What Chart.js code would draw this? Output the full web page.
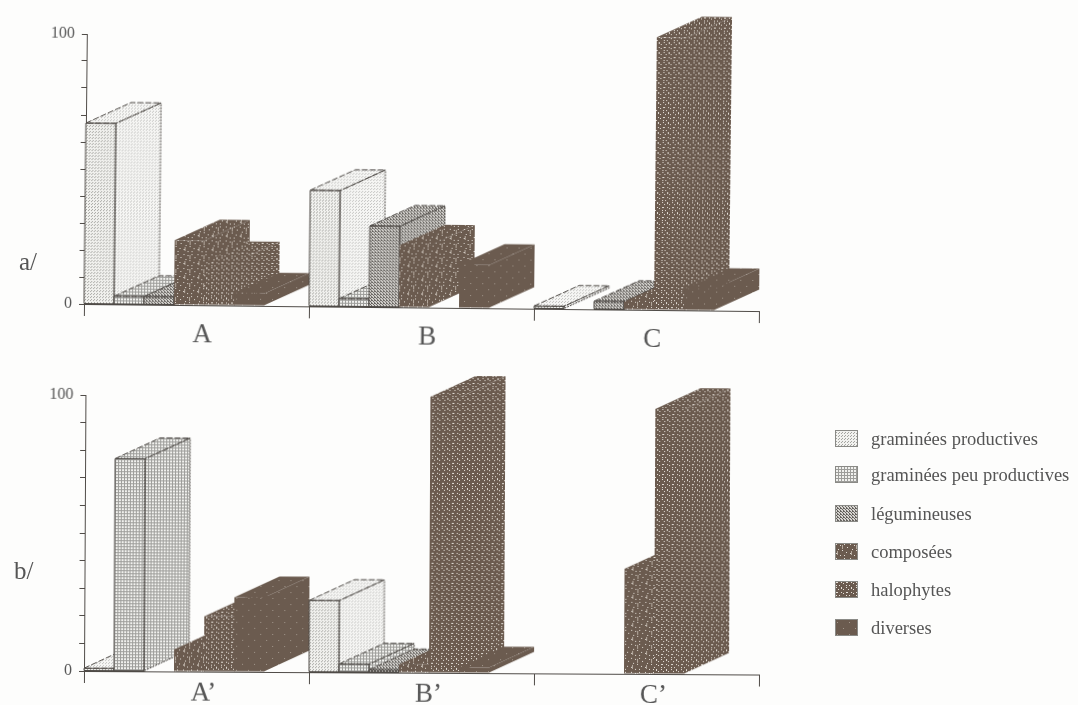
<!DOCTYPE html>
<html>
<head>
<meta charset="utf-8">
<script src="https://cdn.jsdelivr.net/npm/chart.js@4"></script>
<style>
  html, body { margin: 0; padding: 0; background: #fdfdfc; }
  body { width: 1078px; height: 705px; position: relative; overflow: hidden; font-family: "Liberation Serif", serif; color: #555; }
  canvas { position: absolute; left: 0; }
  #chartA { top: 0; transform-origin: 84px 304px; transform: rotate(0.6deg); }
  #chartB { top: 360px; transform-origin: 84px 311px; transform: rotate(0.3deg); }
  .panel { position: absolute; font-size: 25px; line-height: 30px; }
  .row { position: absolute; left: 835px; height: 18px; }
  .row canvas { left: 0; top: 0; outline: 1px solid #8a8a86; outline-offset: -1px; }
  .row span { position: absolute; left: 36px; top: -1px; font-size: 18.5px; line-height: 20px; white-space: nowrap; }
</style>
</head>
<body>
<canvas id="chartA" width="800" height="360"></canvas>
<canvas id="chartB" width="800" height="345"></canvas>
<div class="panel" style="left:19px; top:247px">a/</div>
<div class="panel" style="left:14px; top:556px">b/</div>
<div id="legend"></div>
<script>
const seriesNames = ['graminées productives', 'graminées peu productives', 'légumineuses', 'composées', 'halophytes', 'diverses']
const yTicks = [0, 100]

// a/
const categoriesA = ['A', 'B', 'C']
const prodA = [67, 43, 1]
const peuProdA = [3, 3, 0]
const legumA = [3, 30, 3]
const composA = [24, 23, 3]
const haloA = [16, 0, 101]
const diversA = [4.5, 16, 8]

// b/
const categoriesB = ['A’', 'B’', 'C’']
const prodB = [1, 26, 0]
const peuProdB = [77, 3, 0]
const legumB = [0, 1, 0]
const composB = [8, 3, 38]
const haloB = [20, 100, 96]
const diversB = [27, 2, 0]

const DARK = '#6b5b4f'
const LINE = '#4f4b47'
const DEPTH_X = 45
const DEPTH_Y = 21

// the printed hatchings, as small repeated tiles
function tile(size, bg, draw) {
  const c = document.createElement('canvas')
  c.width = c.height = size
  const g = c.getContext('2d')
  g.fillStyle = bg
  g.fillRect(0, 0, size, size)
  draw(g)
  return c
}

function dots(g, color, list) {
  g.fillStyle = color
  list.forEach(p => g.fillRect(p[0], p[1], 1, 1))
}

const tiles = [
  tile(3, '#f2f2ef', g => dots(g, '#a4a4a0', [[0, 0], [1, 2]])),
  tile(3, '#f1f1ee', g => {
    g.fillStyle = '#9d9d9a'
    g.fillRect(0, 0, 1, 3)
    g.fillRect(0, 0, 3, 1)
  }),
  tile(3, '#d6d4d0', g => dots(g, '#66635f', [[0, 0], [1, 1], [2, 2], [2, 0]])),
  tile(14, DARK, g => {
    dots(g, '#e2ddd6', [[1, 1], [5, 2], [9, 1], [12, 4], [3, 6], [7, 7], [11, 9], [1, 10], [5, 12], [9, 12]])
    g.fillStyle = '#b5aa9f'
    g.fillRect(7, 2, 1, 4)
    g.fillRect(2, 8, 1, 4)
  }),
  tile(10, DARK, g => dots(g, '#e6e1da', [[1, 1], [2, 1], [6, 1], [8, 2], [1, 4], [4, 4], [1, 6], [6, 6], [6, 7], [3, 8], [8, 8]])),
  tile(12, DARK, g => dots(g, '#a2978c', [[2, 3], [8, 9]]))
]

function patternOf(i) {
  return document.createElement('canvas').getContext('2d').createPattern(tiles[i], 'repeat')
}

function face(ctx, pts) {
  ctx.beginPath()
  pts.forEach((p, i) => i ? ctx.lineTo(p[0], p[1]) : ctx.moveTo(p[0], p[1]))
  ctx.closePath()
}

// bars come from the scales, they are only extruded here
const blocks = {
  id: 'blocks',
  beforeDatasetsDraw(chart) {
    const ctx = chart.ctx
    const nCat = chart.data.labels.length
    for (let c = 0; c < nCat; c++) {
      chart.data.datasets.forEach((ds, d) => {
        if (!ds.data[c]) return
        const el = chart.getDatasetMeta(d).data[c]
        const x0 = el.x - el.width / 2 - DEPTH_X / 2
        const x1 = x0 + el.width
        const top = el.y
        const base = el.base
        const light = d < 3
        const side = [[x1, top], [x1 + DEPTH_X, top - DEPTH_Y], [x1 + DEPTH_X, base - DEPTH_Y], [x1, base]]
        const cap = [[x0, top], [x0 + DEPTH_X, top - DEPTH_Y], [x1 + DEPTH_X, top - DEPTH_Y], [x1, top]]
        const front = [[x0, top], [x1, top], [x1, base], [x0, base]]
        ctx.save()
        ctx.fillStyle = ds.backgroundColor
        ;[side, cap, front].forEach(f => { face(ctx, f); ctx.fill() })
        if (d === 0) {
          // front face of this hatching prints denser than side and top
          ctx.fillStyle = 'rgba(255,255,255,0.35)'
          face(ctx, side); ctx.fill()
          face(ctx, cap); ctx.fill()
        }
        if (light) {
          ctx.strokeStyle = LINE
          ctx.lineWidth = 1
          ctx.setLineDash([6, 2])
          face(ctx, cap); ctx.stroke()
          ctx.setLineDash([2, 1])
          face(ctx, side); ctx.stroke()
          ctx.setLineDash([])
          face(ctx, front); ctx.stroke()
        }
        ctx.restore()
      })
    }
    return false
  }
}

function makeChart(id, labels, series, top, bottom, labelShift, labelPad) {
  new Chart(document.getElementById(id), {
    type: 'bar',
    data: {
      labels: labels,
      datasets: series.map((values, i) => ({
        label: seriesNames[i],
        data: values,
        backgroundColor: patternOf(i)
      }))
    },
    options: {
      responsive: false,
      animation: false,
      layout: { padding: { top: top, right: 41, bottom: 4 } },
      categoryPercentage: 0.8,
      barPercentage: 1,
      plugins: { legend: { display: false }, tooltip: { enabled: false } },
      scales: {
        x: {
          afterFit: s => { s.height = bottom },
          border: { color: LINE },
          grid: {
            drawOnChartArea: false,
            tickLength: 12,
            tickColor: c => c.index === labels.length ? 'transparent' : LINE
          },
          ticks: {
            color: '#555',
            labelOffset: labelShift,
            padding: labelPad,
            maxRotation: 0,
            font: { family: 'Liberation Serif', size: 27 }
          }
        },
        y: {
          min: 0,
          max: 100,
          afterFit: s => { s.width = 84 },
          border: { color: LINE },
          grid: { drawOnChartArea: false, tickLength: 5, tickColor: LINE },
          ticks: {
            stepSize: 10,
            padding: 7,
            color: '#555',
            font: { family: 'Liberation Serif', size: 16 },
            callback: v => yTicks.includes(v) ? v : ''
          }
        }
      }
    },
    plugins: [blocks]
  })
}

makeChart('chartA', categoriesA, [prodA, peuProdA, legumA, composA, haloA, diversA], 34, 52, 6, 2)
makeChart('chartB', categoriesB, [prodB, peuProdB, legumB, composB, haloB, diversB], 35, 30, 7, -6)

// legend on the right
const legendY = [430, 466, 505, 543, 581, 619]
seriesNames.forEach((name, i) => {
  const row = document.createElement('div')
  row.className = 'row'
  row.style.top = legendY[i] + 'px'
  const sw = document.createElement('canvas')
  sw.width = 23
  sw.height = 17
  const g = sw.getContext('2d')
  g.fillStyle = g.createPattern(tiles[i], 'repeat')
  g.fillRect(0, 0, 23, 17)
  const txt = document.createElement('span')
  txt.textContent = name
  row.appendChild(sw)
  row.appendChild(txt)
  document.getElementById('legend').appendChild(row)
})
</script>
</body>
</html>
